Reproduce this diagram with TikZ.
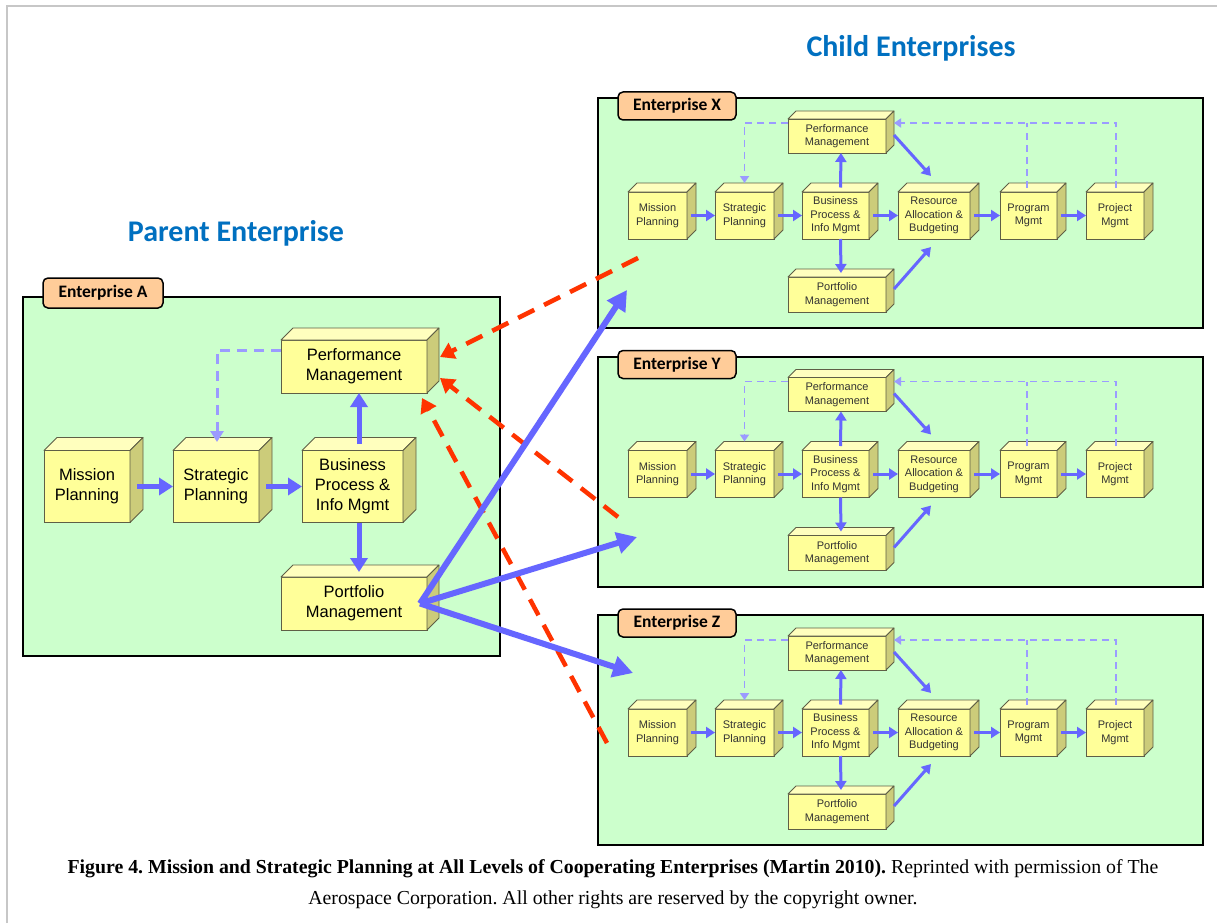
\documentclass[tikz,border=0pt]{standalone}
\usepackage{fontspec}
\setmainfont{Liberation Serif}
\setsansfont{Liberation Sans}
\newfontfamily\calib{Carlito}
\usetikzlibrary{positioning,arrows.meta,calc}
\definecolor{entfill}{RGB}{204,255,204}
\definecolor{tabfill}{RGB}{255,204,153}
\definecolor{boxfront}{RGB}{255,255,153}
\definecolor{boxtop}{RGB}{255,255,190}
\definecolor{boxside}{RGB}{204,204,122}
\definecolor{boxline}{RGB}{95,95,70}
\definecolor{flowblue}{RGB}{102,102,255}
\definecolor{fbblue}{RGB}{155,155,255}
\definecolor{linkred}{RGB}{255,51,0}
\definecolor{titleblue}{RGB}{0,112,192}
\frenchspacing
% 3D block: name, centre, width, height, depth, text
\newcommand{\cube}[6]{%
  \node[blk,minimum width=#3,minimum height=#4] (#1) at (#2) {#6};
  \filldraw[boxline,fill=boxtop,line width=0.8pt,line join=round]
    (#1.north west) -- ++(#5,-#5) -- ($(#1.north east)+(#5,-#5)$) -- (#1.north east) -- cycle;
  \filldraw[boxline,fill=boxside,line width=0.8pt,line join=round]
    (#1.north east) -- ++(#5,-#5) -- ($(#1.south east)+(#5,-#5)$) -- (#1.south east) -- cycle;
}

\begin{document}
\begin{tikzpicture}[x=1pt,y=-1pt,
  blkbase/.style={draw=boxline,line width=0.8pt,fill=boxfront,inner sep=0pt,outer sep=0pt,align=center},
  blk/.style={blkbase,font=\sffamily\fontsize{16.5}{20}\selectfont},
  ent/.style={draw=black,line width=2pt,fill=entfill},
  tab/.style={draw=black,line width=1.5pt,fill=tabfill,rounded corners=5pt,inner sep=0pt,
    font=\calib\bfseries\fontsize{17.5}{20}\selectfont},
  ttl/.style={text=titleblue,font=\calib\bfseries\fontsize{30}{35}\selectfont},
  flowA/.style={flowblue,line width=5pt,-{Triangle[length=14pt,width=17pt]}},
  fbA/.style={fbblue,line width=3pt,dash pattern=on 10pt off 7pt,-{Triangle[length=11pt,width=13pt]}},
  flow/.style={flowblue,line width=3pt,-{Triangle[length=9pt,width=11pt]}},
  fb/.style={fbblue,line width=1.8pt,dash pattern=on 7pt off 5pt},
  link/.style={linkred,line width=4.5pt,dash pattern=on 18pt off 11pt,-{Triangle[length=14pt,width=17pt]}},
  big/.style={flowblue,line width=6pt,-{Triangle[length=20pt,width=21pt]}}]
  \fill[white] (0,0) rectangle (1217,923);
  \useasboundingbox (0,0) rectangle (1217,923);
  \draw[black!22,line width=1.5pt] (7,923) -- (7,6) -- (1217,6);

  \node[ttl] (ttlP) at (236,233) {Parent Enterprise};
  \node[ttl] (ttlC) at (911,48) {Child Enterprises};

  % parent enterprise
  \draw[ent] (23,297) rectangle (500,656);
  \node[tab,minimum width=120pt,minimum height=30pt] (tabA) at (103,293) {Enterprise A};
  \cube{mpA}{87,486.5}{86pt}{72pt}{13}{Mission\\Planning}
  \cube{spA}{216,486.5}{86pt}{72pt}{13}{Strategic\\Planning}
  \cube{bpA}{352.5,486.5}{101pt}{72pt}{13}{Business\\Process \&\\Info Mgmt}
  \cube{pfA}{354,366.5}{146pt}{53pt}{12}{Performance\\Management}
  \cube{poA}{354,603.5}{146pt}{53pt}{12}{Portfolio\\Management}
  \draw[flowA] ([xshift=7pt]mpA.east) -- (spA.west);
  \draw[flowA] ([xshift=7pt]spA.east) -- (bpA.west);
  \draw[flowA] ([xshift=6.5pt,yshift=6.5pt]bpA.north) -- ([xshift=5pt]pfA.south);
  \draw[flowA] ([xshift=6.5pt]bpA.south) -- ([xshift=5pt,yshift=5pt]poA.north);
  \draw[fbA] ([yshift=16.5pt]pfA.west) -| ([xshift=1pt,yshift=8.5pt]spA.north);

  % child enterprises
  \foreach \e/\dy in {X/0,Y/258.5,Z/517}{
  \begin{scope}[shift={(0,\dy)},blk/.style={blkbase,text=black!80,font=\sffamily\fontsize{11}{13.5}\selectfont}]
    \draw[ent] (598,98) rectangle (1203,328);
    \node[tab,minimum width=118pt,minimum height=28pt] (tab\e) at (677,106) {Enterprise \e};
    \cube{mp\e}{657.5,215.5}{59pt}{47pt}{9}{Mission\\Planning}
    \cube{sp\e}{744.5,215.5}{59pt}{47pt}{9}{Strategic\\Planning}
    \cube{bp\e}{835.5,215.5}{67pt}{47pt}{9}{Business\\Process \&\\Info Mgmt}
    \cube{ra\e}{934,215.5}{72pt}{47pt}{9}{Resource\\Allocation \&\\Budgeting}
    \cube{pg\e}{1028.5,215.5}{57pt}{47pt}{9}{Program\\Mgmt}
    \cube{pj\e}{1115,215.5}{58pt}{47pt}{9}{Project\\Mgmt}
    \cube{pf\e}{837,136}{98pt}{34pt}{8}{Performance\\Management}
    \cube{po\e}{837,294.5}{98pt}{35pt}{8}{Portfolio\\Management}
    \draw[flow] ([xshift=4pt]mp\e.east) -- (sp\e.west);
    \draw[flow] ([xshift=4pt]sp\e.east) -- (bp\e.west);
    \draw[flow] ([xshift=4pt]bp\e.east) -- (ra\e.west);
    \draw[flow] ([xshift=4pt]ra\e.east) -- (pg\e.west);
    \draw[flow] ([xshift=4pt]pg\e.east) -- (pj\e.west);
    \draw[flow] ([xshift=5pt,yshift=4.5pt]bp\e.north) -- ([xshift=4pt]pf\e.south);
    \draw[flow] ([xshift=5pt]bp\e.south) -- ([xshift=4pt,yshift=4pt]po\e.north);
    \draw[flow] ([xshift=8pt,yshift=1pt]pf\e.east) -- ([xshift=-3pt,yshift=16pt]ra\e.north);
    \draw[flow] ([xshift=8pt,yshift=5.5pt]po\e.east) -- ([xshift=-3pt,yshift=-8pt]ra\e.south);
    \draw[fb,-{Triangle[length=7pt,width=9pt]}] ([yshift=13pt]pf\e.west) -| ([yshift=9pt]sp\e.north);
    \draw[fb,-{Triangle[length=7pt,width=9pt]}] ([xshift=1pt,yshift=4.5pt]pj\e.north) |- ([xshift=8pt,yshift=13pt]pf\e.east);
    \draw[fb] ([xshift=-1.5pt,yshift=4.5pt]pg\e.north) -- ([xshift=-1.5pt,yshift=69pt]pg\e.north);
  \end{scope}}

  % links between parent and children
  \coordinate (sX) at (638,258);
  \coordinate (sY) at (618,517);
  \coordinate (sZ) at (607,743);
  \coordinate (tX) at (627,290);
  \coordinate (tY) at (637,537);
  \coordinate (tZ) at (633,673);
  \draw[link] (sX) -- ([xshift=13pt,yshift=9.5pt]pfA.east);
  \draw[link] (sY) -- ([xshift=13pt,yshift=-11.5pt]pfA.east);
  \draw[link] (sZ) -- ([xshift=-5pt,yshift=-5pt]pfA.south east);
  \draw[big] ([xshift=-7pt]poA.east) -- (tX);
  \draw[big] ([xshift=-7pt]poA.east) -- (tY);
  \draw[big] ([xshift=-7pt]poA.east) -- (tZ);

  \node[align=center,font=\fontsize{19.8}{31}\selectfont] (cap) at (613,884)
    {\textbf{Figure 4. Mission and Strategic Planning at All Levels of Cooperating Enterprises (Martin 2010).} Reprinted with permission of The\\
     Aerospace Corporation. All other rights are reserved by the copyright owner.};
\end{tikzpicture}
\end{document}
